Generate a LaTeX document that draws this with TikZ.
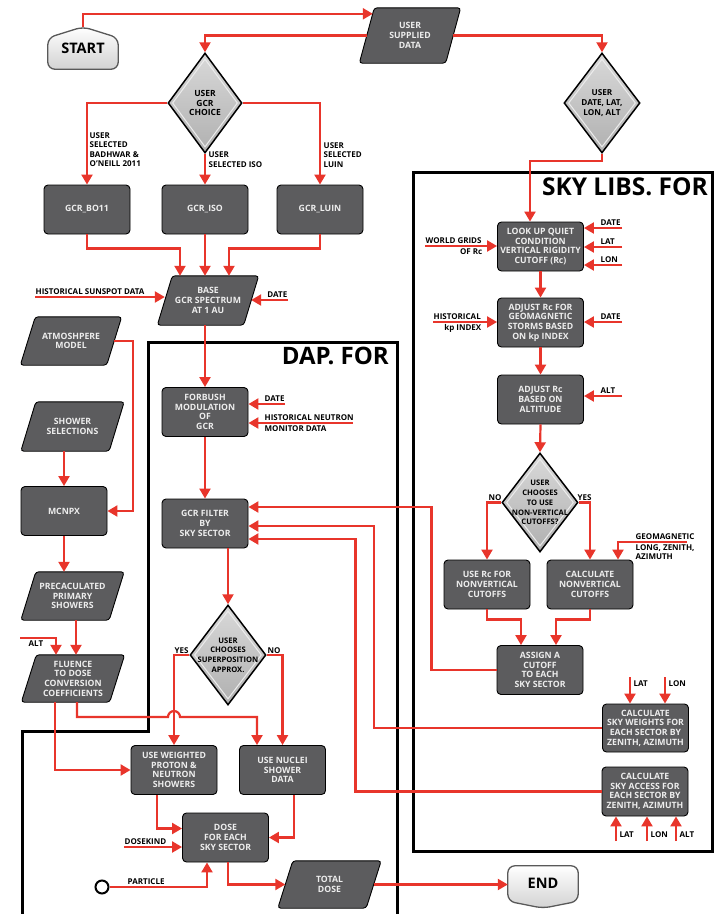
\documentclass[tikz,border=0pt]{standalone}
\usepackage{fontspec}
\setmainfont{Open Sans}
\usetikzlibrary{shapes.geometric,arrows.meta,calc,backgrounds}
\definecolor{redc}{HTML}{E8352B}
\definecolor{boxg}{HTML}{5C5C5E}
\definecolor{boxt}{HTML}{EDEDED}
\tikzset{
 box/.style={draw=black, line width=0.9pt, fill=boxg, rounded corners=4pt, minimum width=86pt, minimum height=49pt, inner sep=1pt, align=center, text=boxt, font=\fontsize{8.7}{9.7}\selectfont\bfseries},
 paratext/.style={inner sep=1pt, align=center, text=boxt, font=\fontsize{8.7}{9.7}\selectfont\bfseries},
 parashape/.style={draw=black, line width=0.9pt, fill=boxg, rounded corners=3pt},
 dia/.style={diamond, draw=black, line width=1.5pt, top color=gray!30, bottom color=gray!62, inner sep=0pt},
 diabevel/.style={diamond, draw=white!85!gray, line width=1pt, inner sep=0pt},
 diatext/.style={align=center, inner sep=0pt, font=\fontsize{7.8}{9.8}\selectfont\bfseries, text=black},
 arr/.style={draw=redc, line width=2.2pt, -{Triangle[width=11pt,length=10pt]}},
 lbl/.style={inner sep=0.5pt, font=\fontsize{8}{9.3}\selectfont\bfseries, text=black},
 term/.style={draw=black!65, line width=1.3pt, top color=white, bottom color=gray!35, rounded corners=7pt},
 termtext/.style={font=\fontsize{14.5}{16}\selectfont\bfseries, inner sep=0pt},
 region/.style={draw=black, line width=3pt},
 bigtitle/.style={inner sep=0pt, font=\fontsize{#1}{#1}\selectfont\bfseries, text=black},
}
\newcommand\paranode[6]{%
  \node[paratext, minimum width=#4pt, minimum height=#5pt] (#1) at (#2,#3) {#6};
  \begin{pgfonlayer}{background}
    \draw[parashape] ([xshift=-7.5pt]#1.south west) -- ([xshift=7.5pt]#1.north west) -- ([xshift=7.5pt]#1.north east) -- ([xshift=-7.5pt]#1.south east) -- cycle;
  \end{pgfonlayer}}
\newcommand\dianode[7]{% name, x, y, w, h, fontsize, text
  \node[dia, minimum width=#4pt, minimum height=#5pt] (#1) at (#2,#3) {};
  \node[diabevel, minimum width=#4pt-9pt, minimum height=#5pt-12pt] (#1B) at (#1.center) {};
  \node[diatext, font=\fontsize{#6}{9.8}\selectfont\bfseries] (#1T) at (#1.center) {#7};}
\begin{document}
\begin{tikzpicture}[x=1pt,y=-1pt]
\useasboundingbox (0,0) rectangle (715,914);
\begin{pgfonlayer}{background}
\fill[white] (0,0) rectangle (715,914);
\end{pgfonlayer}

% regions
\draw[region] (413,172) rectangle (712,851);
\draw[region] (22,914) -- (22,731) -- (148,731) -- (148,342) -- (397,342) -- (397,914);
\node[bigtitle=24, anchor=base east] (daptitle) at (389,364) {DAP. FOR};
\node[bigtitle=24.5, anchor=base east] (skytitle) at (708,195) {SKY LIBS. FOR};

% terminals
\node[termtext, minimum width=70pt, minimum height=42pt] (start) at (83,48) {START};
\node[termtext, minimum width=70pt, minimum height=35pt] (end) at (543,883.5) {END};
\begin{pgfonlayer}{background}
\draw[term] (start.south west) -- ([yshift=-11pt]start.north west) -- (start.north) -- ([yshift=-11pt]start.north east) -- (start.south east) -- cycle;
\draw[term] (end.north west) -- (end.north east) -- (end.south east) -- ([yshift=-7pt]end.south) -- (end.south west) -- cycle;
\end{pgfonlayer}

% boxes
\node[box] (bo11) at (87,209.5) {GCR\_BO11};
\node[box] (iso) at (205,209.5) {GCR\_ISO};
\node[box] (luin) at (320,209.5) {GCR\_LUIN};
\node[box] (lookup) at (540.5,246.5) {LOOK UP QUIET\\CONDITION\\VERTICAL RIGIDITY\\CUTOFF (Rc)};
\node[box] (adjgeo) at (540.5,322.5) {ADJUST Rc FOR\\GEOMAGNETIC\\STORMS BASED\\ON kp INDEX};
\node[box] (adjalt) at (540.5,399.5) {ADJUST Rc\\BASED ON\\ALTITUDE};
\node[box] (userc) at (487,584.5) {USE Rc FOR\\NONVERTICAL\\CUTOFFS};
\node[box] (calcnv) at (590,584.5) {CALCULATE\\NONVERTICAL\\CUTOFFS};
\node[box] (assign) at (540,670) {ASSIGN A\\CUTOFF\\TO EACH\\SKY SECTOR};
\node[box, minimum height=48pt] (skyw) at (645.5,728) {CALCULATE\\SKY WEIGHTS FOR\\EACH SECTOR BY\\ZENITH, AZIMUTH};
\node[box] (skya) at (645,791.5) {CALCULATE\\SKY ACCESS FOR\\EACH SECTOR BY\\ZENITH, AZIMUTH};
\node[box] (forbush) at (205,412) {FORBUSH\\MODULATION\\OF\\GCR};
\node[box] (filter) at (205,523.5) {GCR FILTER\\BY\\SKY SECTOR};
\node[box] (mcnpx) at (64,511) {MCNPX};
\node[box] (weighted) at (174,770) {USE WEIGHTED\\PROTON \&\\NEUTRON\\SHOWERS};
\node[box] (nuclei) at (282.5,770) {USE NUCLEI\\SHOWER\\DATA};
\node[box] (dose) at (225.5,837.5) {DOSE\\FOR EACH\\SKY SECTOR};

% parallelograms
\paranode{usd}{410}{35.5}{86}{55}{USER\\SUPPLIED\\DATA}
\paranode{base}{208}{300.5}{86}{49}{BASE\\GCR SPECTRUM\\AT 1 AU}
\paranode{atm}{71}{341}{86}{48}{ATMOSHPERE\\MODEL}
\paranode{shower}{72.5}{426.5}{88}{49}{SHOWER\\SELECTIONS}
\paranode{precalc}{72.5}{596}{88}{48}{PRECACULATED\\PRIMARY\\SHOWERS}
\paranode{fluence}{73}{678.5}{88}{47}{FLUENCE\\TO DOSE\\CONVERSION\\COEFFICIENTS}
\paranode{total}{329.5}{884.5}{88}{47}{TOTAL\\DOSE}

% diamonds
\dianode{gcrch}{205}{103}{74}{100}{8.5}{USER\\GCR\\CHOICE}
\dianode{udate}{602}{103}{76}{100}{8.2}{USER\\DATE, LAT,\\LON, ALT}
\dianode{nonv}{540}{502.5}{76}{99}{7.6}{USER\\CHOOSES\\TO USE\\NON-VERTICAL\\CUTOFFS?}
\dianode{superp}{228}{655}{76}{100}{7.6}{USER\\CHOOSES\\SUPERPOSITION\\APPROX.}

\node[circle, draw=black, line width=2pt, minimum size=13pt, inner sep=0pt] (particle) at (102,887) {};

% top connectors
\draw[arr] (start.north) |- ([xshift=6pt,yshift=-6pt]usd.north west);
\draw[arr] (usd.west) -| (gcrch.north);
\draw[arr] (usd.east) -| (udate.north);
\draw[arr] (gcrch.west) -| (bo11.north);
\draw[arr] (gcrch.south) -- (iso.north);
\draw[arr] (gcrch.east) -| (luin.north);
\node[lbl, anchor=north west, align=left] (lbo) at (89,132) {USER\\SELECTED\\BADHWAR \&\\O'NEILL 2011};
\node[lbl, anchor=north west, align=left] (liso) at (208,151.5) {USER\\SELECTED ISO};
\node[lbl, anchor=north west, align=left] (lluin) at (323,142) {USER\\SELECTED\\LUIN};

\draw[arr] (bo11.south) -- ++(0,14) -| ($(base.north)+(-28,0)$);
\draw[arr] (iso.south) -- (iso.south |- base.north);
\draw[arr] (luin.south) -- ++(0,14) -| ($(base.north)+(21,0)$);

\coordinate (sunspotS) at (35,297);
\draw[arr] (sunspotS) -- (sunspotS -| base.west);
\node[lbl, anchor=south west] (lsunspot) at (35,295.5) {HISTORICAL SUNSPOT DATA};
\coordinate (dateB) at (288,300);
\draw[arr] (dateB) -- (dateB -| base.east);
\node[lbl, anchor=south east] (ldateB) at (288,298.5) {DATE};

% DAP
\draw[arr] (base.south -| forbush.north) -- (forbush.north);
\coordinate (dateF) at (285,404);
\draw[arr] (dateF) -- (dateF -| forbush.east);
\node[lbl, anchor=south west] (ldateF) at (264,402.5) {DATE};
\coordinate (neutF) at (353,423);
\draw[arr] (neutF) -- (neutF -| forbush.east);
\node[lbl, anchor=south west] (lneut1) at (264,421.5) {HISTORICAL NEUTRON};
\node[lbl, anchor=north west] (lneut2) at (264,425) {MONITOR DATA};

\draw[arr] (forbush.south) -- (filter.north);
\draw[arr] (filter.south -| superp.north) -- (superp.north);
\draw[arr] (assign.west) -- ++(-65,0) |- ($(filter.east)+(0,-16.5)$);
\draw[arr] (skyw.west) -- ++(-228,0) |- ($(filter.east)+(0,2.5)$);
\draw[arr] (skya.west) -- ++(-246,0) |- ($(filter.east)+(0,15.5)$);

\draw[arr] (superp.west) -| (weighted.north);
\node[lbl, anchor=south west] (lyes2) at (174,654) {YES};
\draw[arr] (superp.east) -| (nuclei.north);
\node[lbl, anchor=south west] (lno2) at (267,654) {NO};

\draw[arr] ([xshift=-18pt]fluence.south) |- (weighted.west);
\draw[arr] ([xshift=4pt]fluence.south) |- ($(weighted.north)+(-6,-28)$) arc[start angle=180,end angle=360,radius=6] -| ($(nuclei.north)+(-25.5,0)$);

\draw[arr] ([xshift=-17pt]weighted.south) |- ($(dose.west)+(0,-9)$);
\draw[arr] ([xshift=11.5pt]nuclei.south) |- (dose.east);
\coordinate (dkS) at (124,847);
\draw[arr] (dkS) -- (dkS -| dose.west);
\node[lbl, anchor=south west] (ldk) at (124,845.5) {DOSEKIND};
\draw[arr] (particle.east) -| ($(dose.south)+(-18.5,0)$);
\node[lbl, anchor=south west] (lpart) at (127,885.5) {PARTICLE};
\draw[arr] ($(dose.south)+(2.5,0)$) |- (total.west);
\draw[arr] (total.east) -- (total.east -| end.west);

% left column
\draw[arr] (atm.east) -- ++(19,0) |- (mcnpx.east);
\draw[arr] (shower.south -| mcnpx.north) -- (mcnpx.north);
\draw[arr] (mcnpx.south) -- (mcnpx.south |- precalc.north);
\draw[arr] ([xshift=3.5pt]precalc.south) -- ([xshift=3.5pt]precalc.south |- fluence.north);
\coordinate (altF) at (20,638);
\draw[arr] (altF) -| ($(fluence.north)+(-17,0)$);
\node[lbl, anchor=north west] (laltF) at (28,640.5) {ALT};

% SKY
\draw[arr] (udate.south) -- ++(0,7) -| ($(lookup.north)+(-10.5,0)$);
\coordinate (dateL) at (622,228);
\coordinate (latL) at (622,247);
\coordinate (lonL) at (622,265);
\draw[arr] (dateL) -- (dateL -| lookup.east);
\draw[arr] (latL) -- (latL -| lookup.east);
\draw[arr] (lonL) -- (lonL -| lookup.east);
\node[lbl, anchor=south west] (ldateL) at (600,226.5) {DATE};
\node[lbl, anchor=south west] (llatL) at (600,245.5) {LAT};
\node[lbl, anchor=south west] (llonL) at (600,263.5) {LON};
\coordinate (wgL) at (425,246);
\draw[arr] (wgL) -- (wgL -| lookup.west);
\node[lbl, anchor=south west] (lwg1) at (425,244.5) {WORLD GRIDS};
\node[lbl, anchor=north east] (lwg2) at (483,248) {OF Rc};

\draw[arr] (lookup.south) -- (adjgeo.north);
\coordinate (kpG) at (433,322);
\draw[arr] (kpG) -- (kpG -| adjgeo.west);
\node[lbl, anchor=south west] (lkp1) at (433,320.5) {HISTORICAL};
\node[lbl, anchor=north east] (lkp2) at (482,324) {kp INDEX};
\coordinate (dateG) at (622,322);
\draw[arr] (dateG) -- (dateG -| adjgeo.east);
\node[lbl, anchor=south west] (ldateG) at (600,320.5) {DATE};

\draw[arr] (adjgeo.south) -- (adjalt.north);
\coordinate (altA) at (622,396);
\draw[arr] (altA) -- (altA -| adjalt.east);
\node[lbl, anchor=south west] (laltA) at (600,394.5) {ALT};
\draw[arr] (adjalt.south) -- (nonv.north);
\draw[arr] (nonv.west) -| (userc.north);
\node[lbl, anchor=south west] (lno1) at (488,501) {NO};
\draw[arr] (nonv.east) -| (calcnv.north);
\node[lbl, anchor=south west] (lyes1) at (577,501) {YES};
\coordinate (geoC) at (687,542);
\draw[arr] (geoC) -| ($(calcnv.north)+(28,0)$);
\node[lbl, anchor=south west] (lgeo1) at (635,540.5) {GEOMAGNETIC};
\node[lbl, anchor=north west, align=left] (lgeo2) at (635,544) {LONG, ZENITH,\\AZIMUTH};

\draw[arr] (userc.south) -- ++(0,10) -| ($(assign.north)+(-19,0)$);
\draw[arr] (calcnv.south) -- ++(0,10) -| ($(assign.north)+(16,0)$);

\coordinate (latW) at (630,677);
\coordinate (lonW) at (665,677);
\draw[arr] (latW) -- (latW |- skyw.north);
\draw[arr] (lonW) -- (lonW |- skyw.north);
\node[lbl, anchor=west] (llatW) at (633,684) {LAT};
\node[lbl, anchor=west] (llonW) at (668,684) {LON};

\coordinate (latA) at (616,841);
\coordinate (lonA) at (647,841);
\coordinate (altA2) at (676,841);
\draw[arr] (latA) -- (latA |- skya.south);
\draw[arr] (lonA) -- (lonA |- skya.south);
\draw[arr] (altA2) -- (altA2 |- skya.south);
\node[lbl, anchor=west] (llatA) at (619,835) {LAT};
\node[lbl, anchor=west] (llonA) at (650,835) {LON};
\node[lbl, anchor=west] (laltA2) at (679,835) {ALT};
\end{tikzpicture}
\end{document}
